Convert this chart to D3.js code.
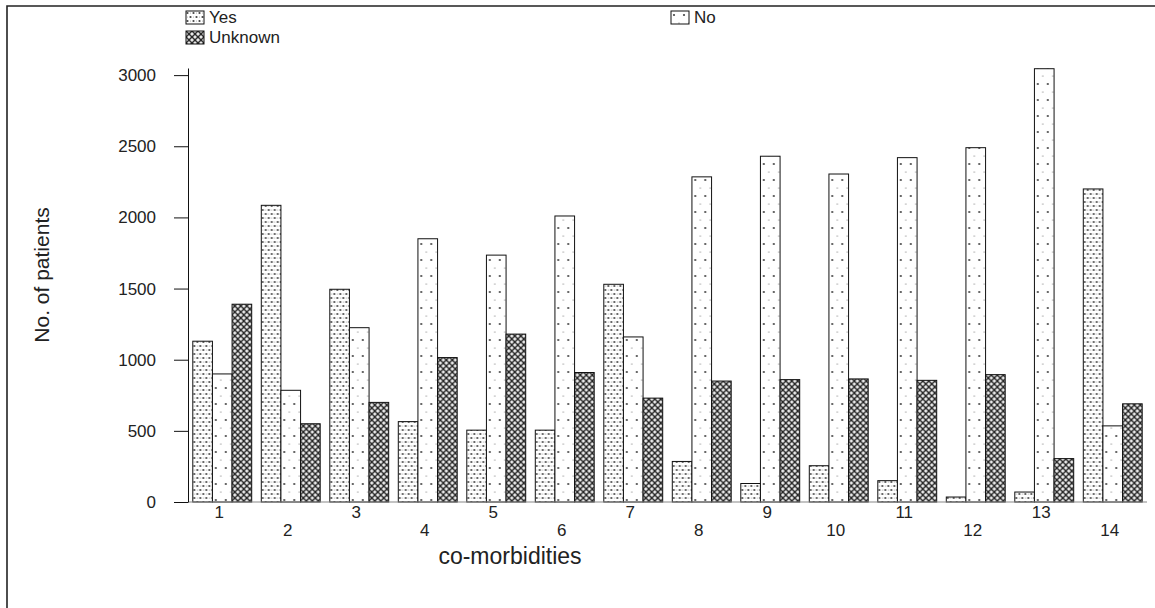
<!DOCTYPE html>
<html>
<head>
<meta charset="utf-8">
<script src="https://cdn.jsdelivr.net/npm/d3@7"></script>
<style>
  html, body { margin: 0; padding: 0; background: #fff; }
  svg { display: block; font-family: "Liberation Sans", Arial, sans-serif; }
</style>
</head>
<body>
<svg id="chart" width="1155" height="608"></svg>
<script>
// Patients per co-morbidity, split by answer
const categories = ["1","2","3","4","5","6","7","8","9","10","11","12","13","14"];
const seriesNames = ["Yes", "No", "Unknown"];
const yesValues     = [1130, 2085, 1495,  565,  505,  505, 1530,  285,  130,  255,  150,   35,   70, 2200];
const noValues      = [ 900,  785, 1225, 1850, 1735, 2010, 1160, 2285, 2430, 2305, 2420, 2490, 3045,  535];
const unknownValues = [1390,  550,  700, 1015, 1180,  910,  730,  850,  860,  865,  855,  895,  305,  690];
const yTicks = [0, 500, 1000, 1500, 2000, 2500, 3000];

const seriesValues = [yesValues, noValues, unknownValues];
const rows = categories.map((c, i) => ({
  cat: c,
  vals: seriesNames.map((s, j) => ({ key: s, value: seriesValues[j][i] }))
}));

const svg = d3.select("#chart");
const FONT = "Liberation Sans, Arial, sans-serif";

// ---- hatch patterns ----
const defs = svg.append("defs");
// Yes: dense staggered dots
const pYes = defs.append("pattern").attr("id", "pat-Yes")
  .attr("patternUnits", "userSpaceOnUse").attr("width", 6).attr("height", 8);
pYes.append("rect").attr("width", 6).attr("height", 8).attr("fill", "#fff");
pYes.append("circle").attr("cx", 1.5).attr("cy", 2).attr("r", 1.1).attr("fill", "#444");
pYes.append("circle").attr("cx", 4.5).attr("cy", 6).attr("r", 1.1).attr("fill", "#444");
pYes.append("circle").attr("cx", 4.5).attr("cy", 2).attr("r", 0.5).attr("fill", "#999");
pYes.append("circle").attr("cx", 1.5).attr("cy", 6).attr("r", 0.5).attr("fill", "#999");
// No: sparse dots
const pNo = defs.append("pattern").attr("id", "pat-No")
  .attr("patternUnits", "userSpaceOnUse").attr("width", 10).attr("height", 16);
pNo.append("rect").attr("width", 10).attr("height", 16).attr("fill", "#fff");
pNo.append("circle").attr("cx", 3).attr("cy", 4).attr("r", 1.1).attr("fill", "#444");
pNo.append("circle").attr("cx", 8).attr("cy", 12).attr("r", 0.55).attr("fill", "#555");
// Unknown: dark lattice
const pUnk = defs.append("pattern").attr("id", "pat-Unknown")
  .attr("patternUnits", "userSpaceOnUse").attr("width", 6).attr("height", 6);
pUnk.append("rect").attr("width", 6).attr("height", 6).attr("fill", "#e8e8e8");
pUnk.append("path").attr("d", "M0,0L6,6M6,0L0,6").attr("stroke", "#333").attr("stroke-width", 1.5);
[[3, 3], [0, 0], [6, 0], [0, 6], [6, 6]].forEach(([cx, cy]) =>
  pUnk.append("circle").attr("cx", cx).attr("cy", cy).attr("r", 1).attr("fill", "#222"));

// ---- outer frame (top and left edges) ----
svg.append("path").attr("d", "M7,608V6H1155")
  .attr("fill", "none").attr("stroke", "#222").attr("stroke-width", 1.6);

// ---- scales ----
const x0 = d3.scaleBand().domain(categories).range([188, 1147])
  .paddingInner(0.14).paddingOuter(0.07);
const x1 = d3.scaleBand().domain(seriesNames).range([0, x0.bandwidth()]);
const y = d3.scaleLinear().domain([0, 3050]).range([502, 68]);

// ---- bars ----
const groups = svg.append("g").selectAll("g").data(rows).join("g")
  .attr("transform", d => `translate(${x0(d.cat)},0)`);
groups.selectAll("rect").data(d => d.vals).join("rect")
  .attr("x", d => x1(d.key))
  .attr("y", d => y(d.value))
  .attr("width", x1.bandwidth())
  .attr("height", d => y(0) - y(d.value))
  .attr("fill", d => `url(#pat-${d.key})`)
  .attr("stroke", "#111")
  .attr("stroke-width", 1);

// ---- x axis: baseline and alternating labels ----
svg.append("line").attr("x1", 188).attr("x2", 1147).attr("y1", y(0)).attr("y2", y(0))
  .attr("stroke", "#888").attr("stroke-width", 1.2);
svg.append("g").selectAll("text").data(categories).join("text")
  .attr("x", d => x0(d) + x0.bandwidth() / 2 - 3)
  .attr("y", (d, i) => i % 2 === 0 ? 518 : 536)
  .attr("text-anchor", "middle")
  .attr("font-family", FONT)
  .attr("font-size", 17)
  .attr("fill", "#222")
  .text(d => d);

// ---- y axis ----
const yAxis = svg.append("g").attr("transform", "translate(188,0)")
  .call(d3.axisLeft(y).tickValues(yTicks).tickFormat(d3.format("d"))
    .tickSize(14).tickPadding(18).tickSizeOuter(0));
yAxis.select(".domain").attr("stroke", "#111");
yAxis.selectAll(".tick line").attr("stroke", "#111");
yAxis.selectAll(".tick text").attr("font-size", 17).attr("fill", "#222")
  .attr("font-family", FONT);

// ---- axis titles ----
svg.append("text").attr("x", 510).attr("y", 564).attr("text-anchor", "middle")
  .attr("font-family", FONT).attr("font-size", 23).attr("fill", "#222")
  .text("co-morbidities");
svg.append("text").attr("transform", "translate(49,275) rotate(-90)")
  .attr("text-anchor", "middle").attr("font-family", FONT)
  .attr("font-size", 21).attr("fill", "#222")
  .text("No. of patients");

// ---- legend ----
const legendItems = [
  { key: "Yes", x: 186, y: 11 },
  { key: "Unknown", x: 186, y: 31 },
  { key: "No", x: 671, y: 11 }
];
const lg = svg.append("g").selectAll("g").data(legendItems).join("g")
  .attr("transform", d => `translate(${d.x},${d.y})`);
lg.append("rect").attr("width", 18).attr("height", 13)
  .attr("fill", d => `url(#pat-${d.key})`).attr("stroke", "#111").attr("stroke-width", 1);
lg.append("text").attr("x", 23).attr("y", 12).attr("font-family", FONT)
  .attr("font-size", 17).attr("fill", "#222")
  .text(d => d.key);
</script>
</body>
</html>
